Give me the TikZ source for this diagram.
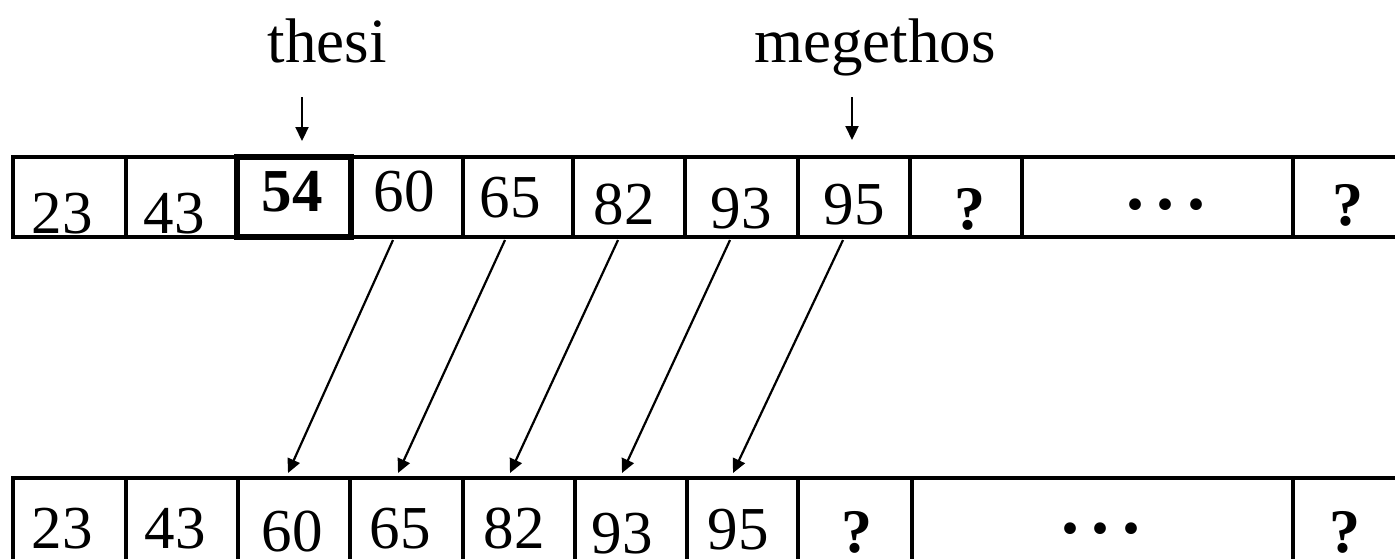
\documentclass[tikz,border=0pt]{standalone}
\usepackage{fontspec}
\setmainfont{Liberation Serif}
\usetikzlibrary{arrows.meta}
\tikzset{
  cell/.style={draw, line width=1.75pt, minimum height=40pt, inner sep=0pt, outer sep=0pt},
  cellb/.style={cell, minimum height=41.5pt},
  boldcell/.style={cell, line width=3.4pt},
  num/.style={anchor=base, inner sep=0pt, font=\fontsize{30.5}{32}\selectfont},
  bnum/.style={anchor=base, inner sep=0pt, font=\fontsize{30.5}{32}\selectfont\bfseries},
  qm/.style={anchor=base, inner sep=0pt, font=\fontsize{31}{32}\selectfont\bfseries},
  dots/.style={anchor=base, inner sep=0pt, font=\fontsize{36}{36}\selectfont\bfseries},
  lbl/.style={anchor=base, inner sep=0pt, font=\fontsize{31.5}{33}\selectfont},
  arr/.style={line width=1.1pt, -{Triangle[length=7pt,width=6.5pt]}},
}
\newcommand{\threedots}{.\hspace{6.25pt}.\hspace{6.25pt}.}
\begin{document}
\begin{tikzpicture}[x=0.5pt,y=-0.5pt]
\useasboundingbox (0,0) rectangle (1395,558);
\clip (0,0) rectangle (1395,558);
% top row
\node[cell, minimum width=56.5pt] (t1) at (69.5,197) {};
\node[cell, minimum width=55.5pt] (t2) at (181.5,197) {};
\node[cell, minimum width=56pt] (t4) at (407,197) {};
\node[cell, minimum width=55pt] (t5) at (518,197) {};
\node[cell, minimum width=56pt] (t6) at (629,197) {};
\node[cell, minimum width=56.5pt] (t7) at (741.5,197) {};
\node[cell, minimum width=56pt] (t8) at (854,197) {};
\node[cell, minimum width=56pt] (t9) at (966,197) {};
\node[cell, minimum width=135.5pt] (t10) at (1157.5,197) {};
\node[cell, minimum width=56pt] (t11) at (1349,197) {};
\node[boldcell, minimum width=57pt] (t3) at (294,197) {};
% top row texts
\node[num] (x1) at (62,233) {23};
\node[num] (x2) at (174,233) {43};
\node[bnum] (x3) at (292,211) {54};
\node[num] (x4) at (404,211) {60};
\node[num] (x5) at (510,217) {65};
\node[num] (x6) at (624,224) {82};
\node[num] (x7) at (741,228) {93};
\node[num] (x8) at (854,224) {95};
\node[qm] (x9) at (970,229) {?};
\node[dots] (x10) at (1166,209) {\threedots};
\node[qm] (x11) at (1348,225) {?};
% bottom row
\node[cellb, minimum width=56.5pt] (b1) at (69.5,519.5) {};
\node[cellb, minimum width=56pt] (b2) at (182,519.5) {};
\node[cellb, minimum width=56pt] (b3) at (294,519.5) {};
\node[cellb, minimum width=56.5pt] (b4) at (406.5,519.5) {};
\node[cellb, minimum width=56pt] (b5) at (519,519.5) {};
\node[cellb, minimum width=56pt] (b6) at (631,519.5) {};
\node[cellb, minimum width=55.5pt] (b7) at (742.5,519.5) {};
\node[cellb, minimum width=57pt] (b8) at (855,519.5) {};
\node[cellb, minimum width=190.5pt] (b9) at (1102.5,519.5) {};
\node[cellb, minimum width=56pt] (b10) at (1349,519.5) {};
% bottom row texts
\node[num] (y1) at (62,548) {23};
\node[num] (y2) at (175,548) {43};
\node[num] (y3) at (292,551) {60};
\node[num] (y4) at (400,548) {65};
\node[num] (y5) at (514,548) {82};
\node[num] (y6) at (622,553) {93};
\node[num] (y7) at (738,549) {95};
\node[qm] (y8) at (857,552) {?};
\node[dots] (y9) at (1101,533) {\threedots};
\node[qm] (y10) at (1345,552) {?};
% labels
\node[lbl] (thesi) at (327,62) {thesi};
\node[lbl] (meg) at (875,62) {megethos};
\draw[arr] ([xshift=-12.5pt,yshift=-17.5pt]thesi.base) -- ([xshift=4pt,yshift=8pt]t3.north);
\draw[arr] ([xshift=-11.5pt,yshift=-17.5pt]meg.base) -- ([xshift=-1pt,yshift=8.5pt]t8.north);
% shift arrows
\draw[arr] ([xshift=-7pt,yshift=-1.5pt]t4.south) -- ([xshift=-3pt,yshift=2.5pt]b3.north);
\draw[arr] ([xshift=-6.5pt,yshift=-1.5pt]t5.south) -- ([xshift=-4.25pt,yshift=2.5pt]b4.north);
\draw[arr] ([xshift=-5.5pt,yshift=-1.5pt]t6.south) -- ([xshift=-4.5pt,yshift=2.5pt]b5.north);
\draw[arr] ([xshift=-5.75pt,yshift=-1.5pt]t7.south) -- ([xshift=-4.5pt,yshift=2.5pt]b6.north);
\draw[arr] ([xshift=-5.5pt,yshift=-1.5pt]t8.south) -- ([xshift=-4.75pt,yshift=2.5pt]b7.north);
\end{tikzpicture}
\end{document}
